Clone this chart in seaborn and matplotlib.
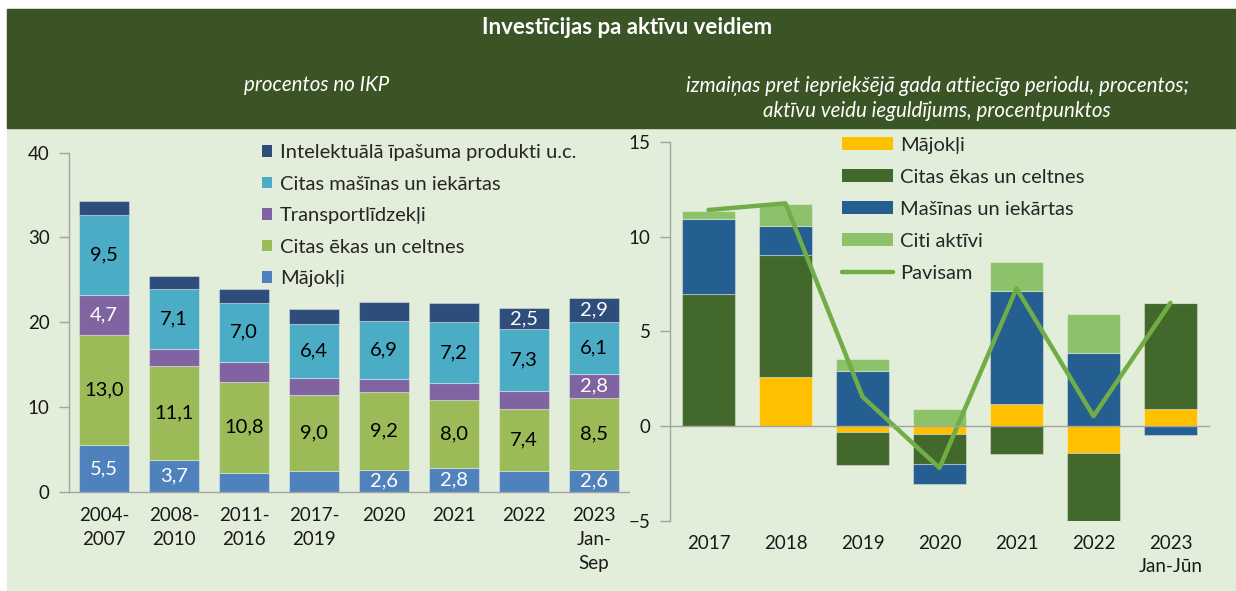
import numpy as np
import seaborn as sns
import matplotlib.pyplot as plt
from matplotlib.patches import Rectangle, Patch
from matplotlib.lines import Line2D

# --- kreisais grafiks: procentos no IKP ---
periods_l = ['2004-\n2007', '2008-\n2010', '2011-\n2016', '2017-\n2019',
             '2020', '2021', '2022', '2023\nJan-\nSep']
majokli_l = [5.5, 3.7, 2.2, 2.4, 2.6, 2.8, 2.4, 2.6]
ekas_l = [13.0, 11.1, 10.8, 9.0, 9.2, 8.0, 7.4, 8.5]
transp_l = [4.7, 2.0, 2.3, 2.0, 1.5, 2.0, 2.1, 2.8]
masinas_l = [9.5, 7.1, 7.0, 6.4, 6.9, 7.2, 7.3, 6.1]
intel_l = [1.6, 1.5, 1.6, 1.7, 2.2, 2.3, 2.5, 2.9]

# which segments carry a value label
show_majokli = [1, 1, 0, 0, 1, 1, 0, 1]
show_ekas = [1] * 8
show_transp = [1, 0, 0, 0, 0, 0, 0, 1]
show_masinas = [1] * 8
show_intel = [0, 0, 0, 0, 0, 0, 1, 1]

# --- labais grafiks: izmaiņas, procentpunkti ---
years_r = ['2017', '2018', '2019', '2020', '2021', '2022', '2023\nJan-Jūn']
majokli_r = [0.0, 2.6, -0.3, -0.42, 1.18, -1.41, 0.91]
ekas_r = [6.95, 6.4, -1.76, -1.55, -1.48, -3.69, 5.6]
masinas_r = [3.95, 1.58, 2.92, -1.1, 5.96, 3.87, -0.47]
citi_r = [0.47, 1.14, 0.6, 0.9, 1.53, 2.04, 0.0]
pavisam_r = [11.4, 11.75, 1.55, -2.2, 7.26, 0.53, 6.5]

BAND = '#3A5425'
PANEL = '#E2EED9'
AXIS = '#A3A3A3'

sns.set_theme(style='white')
plt.rcParams['font.family'] = ['Lato', 'DejaVu Sans']


def stack_bottoms(layers):
    pos = np.zeros(len(layers[0]))
    neg = np.zeros(len(layers[0]))
    out = []
    for v in layers:
        v = np.asarray(v, dtype=float)
        out.append(np.where(v >= 0, pos, neg))
        pos = pos + np.clip(v, 0, None)
        neg = neg + np.clip(v, None, 0)
    return out


def fmt(vals, show):
    return [f'{v:.1f}'.replace('.', ',') if s else '' for v, s in zip(vals, show)]


fig = plt.figure(figsize=(12.36, 5.91), dpi=100, facecolor='white')
fig.patches.append(Rectangle((7 / 1236, 0), 1 - 7 / 1236, 1 - 9 / 591,
                             transform=fig.transFigure, color=PANEL, zorder=-2))
fig.patches.append(Rectangle((7 / 1236, 1 - 128 / 591), 1 - 7 / 1236, (128 - 9) / 591,
                             transform=fig.transFigure, color=BAND, zorder=-1))

fig.text(627 / 1236, 1 - 28 / 591, 'Investīcijas pa aktīvu veidiem', color='white',
         fontsize=16, fontweight='bold', ha='center', va='center')
fig.text(317 / 1236, 1 - 85 / 591, 'procentos no IKP', color='white',
         fontsize=14.8, style='italic', ha='center', va='center')
fig.text(937 / 1236, 1 - 98.5 / 591,
         'izmaiņas pret iepriekšējā gada attiecīgo periodu, procentos;\n'
         'aktīvu veidu ieguldījums, procentpunktos',
         color='white', fontsize=14.8, style='italic', ha='center', va='center',
         linespacing=1.32)

# ---------------- left ----------------
ax1 = fig.add_axes([69 / 1236, 1 - 491.7 / 591, 560 / 1236, 339 / 591])
ax1.set_facecolor('none')

layers_l = [
    (majokli_l, '#4F81BD', 'Mājokļi', show_majokli, 'white'),
    (ekas_l, '#9BBB59', 'Citas ēkas un celtnes', show_ekas, 'black'),
    (transp_l, '#8064A2', 'Transportlīdzekļi', show_transp, 'white'),
    (masinas_l, '#4BACC6', 'Citas mašīnas un iekārtas', show_masinas, 'black'),
    (intel_l, '#2E4D7B', 'Intelektuālā īpašuma produkti u.c.', show_intel, 'white'),
]
bottoms_l = stack_bottoms([l[0] for l in layers_l])
for (vals, col, name, show, tcol), bot in zip(layers_l, bottoms_l):
    sns.barplot(x=periods_l, y=vals, bottom=bot, color=col, saturation=1,
                width=0.71, edgecolor=(1, 1, 1, 0.35), linewidth=0.8, ax=ax1)
    ax1.bar_label(ax1.containers[-1], labels=fmt(vals, show), label_type='center',
                  color=tcol, fontsize=14.5)

ax1.set_xlim(-0.5, len(periods_l) - 0.5)
ax1.set_ylim(0, 40)
ax1.set_yticks([0, 10, 20, 30, 40])
ax1.set_xticks(np.arange(len(periods_l) + 1) - 0.5, minor=True)
ax1.tick_params(axis='x', which='major', length=0, pad=11, labelsize=13.5,
                colors='#1a1a1a')
ax1.tick_params(axis='x', which='minor', length=7, width=1, color=AXIS, direction='out')
ax1.tick_params(axis='y', length=7, width=1, color=AXIS, pad=7, labelsize=13.5,
                labelcolor='#1a1a1a', left=True)
for lbl in ax1.get_xticklabels():
    lbl.set_linespacing(1.5)
    lbl.set_va('top')
for s in ['top', 'right']:
    ax1.spines[s].set_visible(False)
for s in ['left', 'bottom']:
    ax1.spines[s].set_color(AXIS)
    ax1.spines[s].set_linewidth(1)
ax1.set_xlabel('')
ax1.set_ylabel('')

handles_l = [Patch(facecolor=c, edgecolor='none', label=n) for _, c, n, _, _ in layers_l][::-1]
fig.legend(handles=handles_l, loc='upper left', bbox_to_anchor=(262 / 1236, 1 - 144 / 591),
           frameon=False, fontsize=14.5, handlelength=0.5, handleheight=0.5,
           handletextpad=0.4, labelspacing=0.72, borderpad=0, borderaxespad=0)

# ---------------- right ----------------
ax2 = fig.add_axes([670 / 1236, 1 - 521 / 591, 539 / 1236, 379.3 / 591])
ax2.set_facecolor('none')

layers_r = [
    (majokli_r, '#FFC000', 'Mājokļi'),
    (ekas_r, '#43682B', 'Citas ēkas un celtnes'),
    (masinas_r, '#255E91', 'Mašīnas un iekārtas'),
    (citi_r, '#8DC26A', 'Citi aktīvi'),
]
bottoms_r = stack_bottoms([l[0] for l in layers_r])
for (vals, col, name), bot in zip(layers_r, bottoms_r):
    sns.barplot(x=years_r, y=vals, bottom=bot, color=col, saturation=1,
                width=0.70, edgecolor=(1, 1, 1, 0.35), linewidth=0.8, ax=ax2)

sns.lineplot(x=np.arange(len(years_r)), y=pavisam_r, color='#70AD47', linewidth=3.2,
             legend=False, ax=ax2)

ax2.set_xlim(-0.5, len(years_r) - 0.5)
ax2.set_ylim(-5, 15)
ax2.set_yticks([-5, 0, 5, 10, 15])
ax2.set_xticks(np.arange(len(years_r) + 1) - 0.5)
ax2.set_xticklabels([])
ax2.tick_params(axis='x', length=7, width=1, color=AXIS, direction='out')
ax2.tick_params(axis='y', length=7, width=1, color=AXIS, pad=7, labelsize=13.5,
                labelcolor='#1a1a1a', left=True)
ax2.spines['bottom'].set_position(('data', 0))
for s in ['top', 'right']:
    ax2.spines[s].set_visible(False)
for s in ['left', 'bottom']:
    ax2.spines[s].set_color(AXIS)
    ax2.spines[s].set_linewidth(1)
ax2.set_xlabel('')
ax2.set_ylabel('')

sec = ax2.secondary_xaxis('bottom')
sec.set_xticks(np.arange(len(years_r)), labels=years_r)
sec.tick_params(length=0, pad=10, labelsize=13.5, colors='#1a1a1a')
sec.spines['bottom'].set_visible(False)
for lbl in sec.get_xticklabels():
    lbl.set_linespacing(1.45)

handles_r = [Patch(facecolor=c, edgecolor='none', label=n) for _, c, n in layers_r]
handles_r.append(Line2D([], [], color='#70AD47', linewidth=3.2, label='Pavisam'))
fig.legend(handles=handles_r, loc='upper left', bbox_to_anchor=(842 / 1236, 1 - 136.5 / 591),
           frameon=False, fontsize=14.5, handlelength=2.54, handleheight=0.6,
           handletextpad=0.35, labelspacing=0.75, borderpad=0, borderaxespad=0)

fig.savefig('out.png', dpi=100, facecolor=fig.get_facecolor())
